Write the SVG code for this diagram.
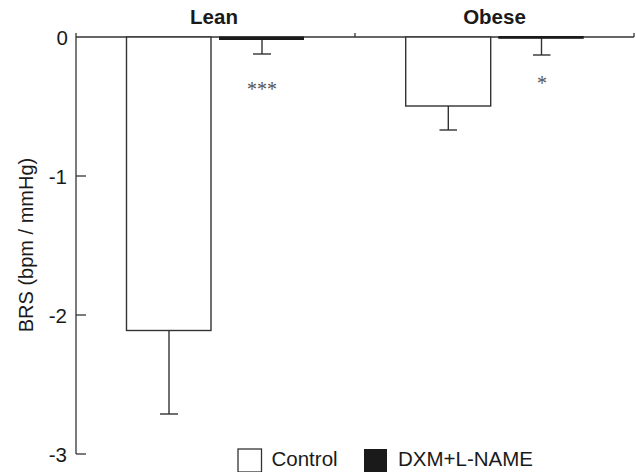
<svg xmlns="http://www.w3.org/2000/svg" width="636" height="472" viewBox="0 0 636 472">
<style>
.ax{stroke:#333;stroke-width:1.3;fill:none}
.bar{stroke:#333;stroke-width:1.4;fill:#fff}
.err{stroke:#333;stroke-width:1.4;fill:none}
.dxm{fill:#1a1a1a}
.t{font-family:"Liberation Sans",Arial,sans-serif;font-size:20.5px;fill:#1a1a1a}
.b{font-family:"Liberation Sans",Arial,sans-serif;font-size:20.5px;font-weight:bold;fill:#1a1a1a}
.s{font-family:"Liberation Serif","Times New Roman",serif;font-size:20px;fill:#555}
</style>
<rect width="636" height="472" fill="#fff"/>
<g id="axes">
<line class="ax" x1="76" y1="33" x2="76" y2="454"/>
<line class="ax" x1="76" y1="37" x2="634" y2="37"/>
<line class="ax" x1="355" y1="33" x2="355" y2="37"/>
<line class="ax" x1="634" y1="33" x2="634" y2="37"/>
<line class="ax" x1="76" y1="176" x2="86" y2="176"/>
<line class="ax" x1="76" y1="315" x2="86" y2="315"/>
<line class="ax" x1="76" y1="454" x2="86" y2="454"/>
<text class="t" x="68" y="44.5" text-anchor="end">0</text>
<text class="t" x="67" y="183.5" text-anchor="end">-1</text>
<text class="t" x="67" y="322.5" text-anchor="end">-2</text>
<text class="t" x="67" y="461.5" text-anchor="end">-3</text>
<text class="t" transform="translate(33,245) rotate(-90)" text-anchor="middle" style="font-size:20px">BRS (bpm / mmHg)</text>
<text class="b" x="214" y="24" text-anchor="middle">Lean</text>
<text class="b" x="494.5" y="24" text-anchor="middle">Obese</text>
</g>
<g id="lean-control">
<line class="err" x1="169" y1="330" x2="169" y2="414"/>
<line class="err" x1="160" y1="414" x2="178" y2="414"/>
<rect class="bar" x="126.5" y="37" width="84.5" height="293.5"/>
</g>
<g id="lean-dxm">
<line class="err" x1="262" y1="38" x2="262" y2="54"/>
<line class="err" x1="253" y1="54" x2="271" y2="54"/>
<rect class="dxm" x="219" y="36.5" width="85" height="3.5"/>
<text class="s" x="262" y="95.5" text-anchor="middle">***</text>
</g>
<g id="obese-control">
<line class="err" x1="448.3" y1="106" x2="448.3" y2="130"/>
<line class="err" x1="439.5" y1="130" x2="457" y2="130"/>
<rect class="bar" x="405.7" y="37" width="85" height="69"/>
</g>
<g id="obese-dxm">
<line class="err" x1="541.5" y1="38" x2="541.5" y2="55"/>
<line class="err" x1="533" y1="55" x2="550.5" y2="55"/>
<rect class="dxm" x="498.3" y="36" width="85.4" height="2.8"/>
<text class="s" x="542" y="90" text-anchor="middle">*</text>
</g>
<g id="legend">
<rect x="238" y="449" width="23.5" height="23" fill="#fff" stroke="#333" stroke-width="1.3"/>
<text class="t" x="271.5" y="466">Control</text>
<rect x="364" y="449" width="23" height="23" fill="#1a1a1a"/>
<text class="t" x="398" y="466">DXM+L-NAME</text>
</g>
</svg>
